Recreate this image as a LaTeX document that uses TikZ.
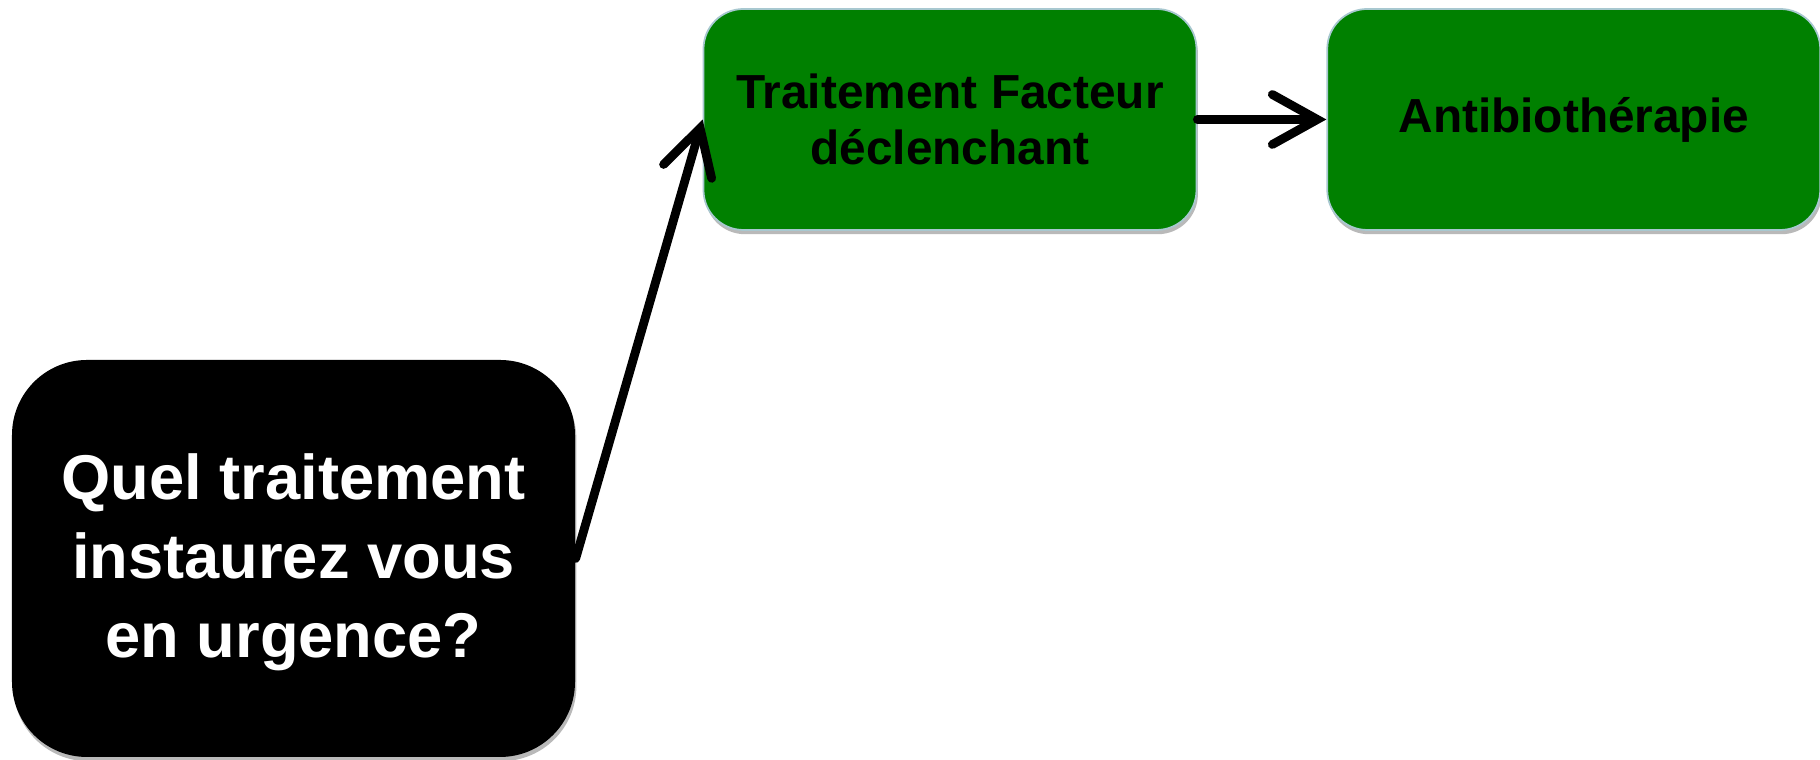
\documentclass[tikz,border=0pt]{standalone}
\usepackage{fontspec}
\setmainfont{Liberation Sans}
\usetikzlibrary{positioning,arrows.meta,shadows}
\definecolor{boxgreen}{HTML}{008000}
\definecolor{edgeblue}{HTML}{A8C8D0}
\begin{document}
\begin{tikzpicture}[
    node distance=1.29cm,
    box/.style={rectangle, text centered, align=center, font=\bfseries,
        drop shadow={shadow xshift=0.4pt, shadow yshift=-1.2pt, fill=gray!55, opacity=1}},
    question/.style={box, fill=black, text=white, rounded corners=0.75cm,
        minimum width=5.63cm, minimum height=3.97cm,
        font=\fontsize{18}{22.5}\selectfont\bfseries},
    answer/.style={box, fill=boxgreen, draw=edgeblue, line width=0.5pt, text=black,
        rounded corners=0.4cm, minimum width=4.93cm, minimum height=2.21cm,
        font=\fontsize{13.6}{16}\selectfont\bfseries},
    link/.style={-{Straight Barb[length=4.5mm, width=5mm, line cap=round]},
        line width=2.5pt, line cap=round}
]
    \useasboundingbox (0,0) rectangle (18.2,7.6);

    % Question
    \node[question] (question) at (2.935,2.015) {\rule{0pt}{15pt}Quel traitement\\instaurez vous\\en urgence?};

    % Answers
    \node[answer] (trigger) at (9.50,6.405) {Traitement Facteur\\déclenchant};
    \node[answer, right=of trigger] (antibio) {Antibiothérapie};

    % Connections
    \draw[link] (question.east) -- (trigger.west);
    \draw[link] (trigger) -- (antibio);
\end{tikzpicture}
\end{document}
